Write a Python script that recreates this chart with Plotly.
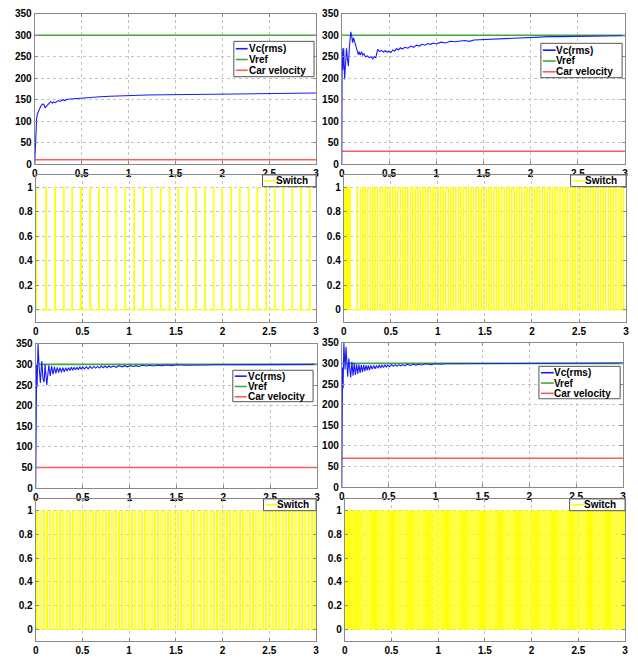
import plotly.graph_objects as go

# ---------------- data ----------------
T_MAX = 3.0
x_ticks = [0, 0.5, 1, 1.5, 2, 2.5, 3]
x_tick_labels = ["0", "0.5", "1", "1.5", "2", "2.5", "3"]
v_ticks = [0, 50, 100, 150, 200, 250, 300, 350]
v_tick_labels = ["0", "50", "100", "150", "200", "250", "300", "350"]
sw_ticks = [0, 0.2, 0.4, 0.6, 0.8, 1]
sw_tick_labels = ["0", "0.2", "0.4", "0.6", "0.8", "1"]

v_ref = 300
car_velocity = [10, 30, 50, 70]
series_names = ["Vc(rms)", "Vref", "Car velocity"]
switch_name = "Switch"

# Vc(rms), car velocity 10
vc1_t = [0, 0.005, 0.01, 0.02, 0.03, 0.05, 0.07, 0.09, 0.1, 0.11, 0.13, 0.15, 0.17, 0.19, 0.2, 0.22,
         0.25, 0.27, 0.3, 0.32, 0.35, 0.4, 0.45, 0.5, 0.55, 0.6, 0.7, 0.8, 0.9, 1.0, 1.2, 1.4, 1.6,
         1.8, 2.0, 2.2, 2.4, 2.6, 2.8, 3.0]
vc1_v = [0, 40, 80, 105, 118, 130, 137, 140, 138, 131, 137, 141, 146, 142, 145, 143,
         148, 146, 150, 148, 151, 152, 153, 154, 155, 155.5, 157, 158, 159, 160, 161, 161.5, 162,
         163, 163.5, 164, 164, 164.5, 165, 165.5]

# Vc(rms), car velocity 30
vc2_t = [0, 0.004, 0.012, 0.02, 0.03, 0.04, 0.05, 0.06, 0.07, 0.08, 0.095, 0.105, 0.115, 0.125,
         0.135, 0.145, 0.16, 0.175, 0.185, 0.195, 0.21, 0.22, 0.235, 0.25, 0.27, 0.29, 0.31, 0.33,
         0.345, 0.36, 0.38, 0.4, 0.42, 0.44, 0.46, 0.48, 0.5, 0.52, 0.54, 0.56, 0.58, 0.6, 0.62,
         0.64, 0.67, 0.7, 0.73, 0.76, 0.79, 0.82, 0.85, 0.88, 0.91, 0.94, 0.97, 1.0, 1.05, 1.1,
         1.15, 1.2, 1.3, 1.35, 1.4, 1.5, 1.6, 1.7, 1.8, 1.9, 2.0, 2.1, 2.2, 2.3, 2.4, 2.5, 2.6,
         2.7, 2.8, 2.9, 3.0]
vc2_v = [0, 270, 220, 270, 197, 250, 270, 245, 228, 270, 308, 298, 283, 294,
         285, 275, 265, 255, 262, 254, 262, 253, 257, 250, 252, 248, 250, 245,
         250, 248, 267, 262, 265, 261, 264, 261, 263, 260, 266, 263, 269, 266, 271,
         268, 272, 270, 275, 272, 277, 275, 279, 277, 281, 279, 282, 280, 284, 282,
         286, 285, 288, 286, 289, 290, 291, 292, 293, 294, 296, 296, 297, 297, 297.5, 298, 298,
         298.5, 298.5, 299, 299]

# Vc(rms), car velocity 50
vc3_t = [0, 0.005, 0.01, 0.015, 0.025, 0.035, 0.05, 0.065, 0.078, 0.09, 0.1, 0.118, 0.14, 0.155,
         0.17, 0.185, 0.2, 0.215, 0.23, 0.245, 0.26, 0.275, 0.29, 0.305, 0.32, 0.335, 0.35, 0.365,
         0.38, 0.395, 0.41, 0.425, 0.44, 0.455, 0.47, 0.485, 0.5, 0.52, 0.54, 0.56, 0.58, 0.6,
         0.62, 0.64, 0.66, 0.68, 0.7, 0.72, 0.74, 0.76, 0.78, 0.8, 0.83, 0.86, 0.89, 0.92, 0.95,
         0.98, 1.01, 1.04, 1.07, 1.1, 1.14, 1.18, 1.22, 1.26, 1.3, 1.35, 1.4, 1.45, 1.5, 1.6, 1.7,
         1.8, 1.9, 2.0, 2.2, 2.4, 2.6, 2.8, 3.0]
vc3_v = [0, 180, 300, 245, 350, 300, 255, 308, 265, 257, 300, 250, 298, 272,
         296, 276, 294, 278, 293, 280, 292, 281, 292, 282, 292, 284, 292, 285,
         293, 286, 293, 287, 293, 287, 294, 288, 294, 289, 294, 289, 295, 290,
         295, 291, 295, 291, 296, 292, 296, 292, 296, 293, 296, 293, 297, 294, 297,
         294, 297, 295, 297, 295, 298, 296, 298, 296, 298, 297, 298.5, 297, 299, 298, 299,
         298.5, 299, 299, 299.5, 299.5, 299.5, 300, 300]

# Vc(rms), car velocity 70
vc4_t = [0, 0.003, 0.008, 0.014, 0.022, 0.028, 0.035, 0.045, 0.055, 0.063, 0.075, 0.085, 0.095,
         0.108, 0.12, 0.133, 0.145, 0.158, 0.17, 0.183, 0.195, 0.208, 0.22, 0.233, 0.245, 0.258,
         0.27, 0.283, 0.295, 0.31, 0.325, 0.34, 0.355, 0.37, 0.385, 0.4, 0.415, 0.43, 0.445, 0.46,
         0.475, 0.49, 0.51, 0.53, 0.55, 0.57, 0.59, 0.61, 0.63, 0.65, 0.67, 0.7, 0.73, 0.76, 0.79,
         0.82, 0.85, 0.9, 0.95, 1.0, 1.05, 1.1, 1.2, 1.3, 1.5, 1.7, 2.0, 2.5, 3.0]
vc4_v = [0, 120, 290, 240, 350, 300, 285, 340, 295, 268, 312, 285, 266,
         304, 270, 300, 272, 298, 275, 297, 277, 296, 279, 296, 281, 295,
         283, 295, 284, 295, 286, 295, 287, 295, 288, 296, 289, 296, 290, 296,
         291, 296, 292, 297, 293, 297, 293, 297, 294, 297, 294, 298, 295, 298, 296,
         298, 296, 299, 297, 299, 298, 299, 299, 299.5, 299.5, 300, 300, 300.5, 301]

# Switch signals: pulse start times (s) and pulse widths (s)
sw1_on = [0.004, 0.108, 0.203, 0.297, 0.386, 0.481, 0.577, 0.672, 0.764, 0.860, 0.955, 1.050,
          1.146, 1.238, 1.334, 1.429, 1.521, 1.617, 1.712, 1.808, 1.900, 1.992, 2.088, 2.180,
          2.275, 2.367, 2.462, 2.554, 2.646, 2.742, 2.834, 2.929]
sw1_width = 0.008

sw2_on = [0.005, 0.020, 0.035, 0.050, 0.065, 0.140, 0.175, 0.200, 0.225, 0.252, 0.280, 0.305,
          0.330, 0.358, 0.385, 0.410, 0.437, 0.465, 0.490, 0.518, 0.545, 0.570, 0.598, 0.625,
          0.650, 0.678, 0.705, 0.730, 0.758, 0.785, 0.810, 0.838, 0.866, 0.892, 0.920, 0.946,
          0.973, 1.000, 1.027, 1.054, 1.080, 1.108, 1.135, 1.161, 1.189, 1.216, 1.242, 1.270,
          1.297, 1.323, 1.351, 1.378, 1.404, 1.432, 1.459, 1.485, 1.513, 1.540, 1.566, 1.594,
          1.621, 1.647, 1.675, 1.702, 1.728, 1.756, 1.783, 1.809, 1.837, 1.864, 1.890, 1.918,
          1.945, 1.971, 1.999, 2.026, 2.052, 2.080, 2.107, 2.133, 2.161, 2.188, 2.214, 2.242,
          2.269, 2.295, 2.323, 2.350, 2.376, 2.404, 2.431, 2.457, 2.485, 2.512, 2.538, 2.566,
          2.593, 2.619, 2.647, 2.674, 2.700, 2.728, 2.755, 2.781, 2.809, 2.836, 2.862, 2.890,
          2.917, 2.943, 2.971]
sw2_width = 0.005

sw3_on = [0.010, 0.045, 0.080, 0.115, 0.150, 0.185, 0.220, 0.255, 0.290, 0.325, 0.360, 0.395,
          0.430, 0.465, 0.500, 0.535, 0.570, 0.605, 0.640, 0.675, 0.710, 0.745, 0.780, 0.815,
          0.850, 0.885, 0.920, 0.955, 0.990, 1.025, 1.060, 1.095, 1.130, 1.165, 1.200, 1.235,
          1.270, 1.305, 1.340, 1.375, 1.410, 1.445, 1.480, 1.515, 1.550, 1.585, 1.620, 1.655,
          1.690, 1.725, 1.760, 1.795, 1.830, 1.865, 1.900, 1.935, 1.970, 2.005, 2.040, 2.075,
          2.110, 2.145, 2.180, 2.215, 2.250, 2.285, 2.320, 2.355, 2.390, 2.425, 2.460, 2.495,
          2.530, 2.565, 2.600, 2.635, 2.670, 2.705, 2.740, 2.775, 2.810, 2.845, 2.880, 2.915,
          2.950, 2.985]
sw3_width = 0.012

sw4_on = [0.004, 0.018, 0.032, 0.050, 0.070, 0.092, 0.114, 0.137, 0.160, 0.182, 0.205, 0.228,
          0.250, 0.273, 0.296, 0.318, 0.341, 0.364, 0.386, 0.409, 0.432, 0.454, 0.477, 0.500,
          0.522, 0.545, 0.568, 0.590, 0.613, 0.636, 0.658, 0.681, 0.704, 0.726, 0.749, 0.772,
          0.794, 0.817, 0.840, 0.862, 0.885, 0.908, 0.930, 0.953, 0.976, 0.998, 1.021, 1.044,
          1.066, 1.089, 1.112, 1.134, 1.157, 1.180, 1.202, 1.225, 1.248, 1.270, 1.293, 1.316,
          1.338, 1.361, 1.384, 1.406, 1.429, 1.452, 1.474, 1.497, 1.520, 1.542, 1.565, 1.588,
          1.610, 1.633, 1.656, 1.678, 1.701, 1.724, 1.746, 1.769, 1.792, 1.814, 1.837, 1.860,
          1.882, 1.905, 1.928, 1.950, 1.973, 1.996, 2.018, 2.041, 2.064, 2.086, 2.109, 2.132,
          2.154, 2.177, 2.200, 2.222, 2.245, 2.268, 2.290, 2.313, 2.336, 2.358, 2.381, 2.404,
          2.426, 2.449, 2.472, 2.494, 2.517, 2.540, 2.562, 2.585, 2.608, 2.630, 2.653, 2.676,
          2.698, 2.721, 2.744, 2.766, 2.789, 2.812, 2.834, 2.857, 2.880, 2.902, 2.925, 2.948,
          2.970, 2.993]
sw4_width = 0.011

# ---------------- styling ----------------
W, H = 638, 662
FONT = "Liberation Sans, Arial, sans-serif"
C_VC = "#1a1aff"
C_REF = "#3fa83f"
C_CAR = "#ff5a5a"
C_SW = "#ffff00"
GRID = "#c4c4c4"
FRAME = "#8a8a8a"

# pixel boxes of the 8 plot areas: (x0, x1, y0_top, y1_bottom)
boxes = [
    (32, 316, 8, 161), (342, 628, 8, 161),
    (33, 316, 172, 322), (344, 629, 172, 322),
    (33, 317, 344, 491), (342, 626, 343, 490),
    (33, 316, 502, 647), (345, 628, 502, 647),
]


def px(x):
    return x / W


def py(y):
    return 1 - y / H


def pulse_xy(starts, width):
    xs, ys = [0.0], [0.0]
    for s in starts:
        xs += [s, s, s + width, s + width]
        ys += [0, 1, 1, 0]
    xs.append(T_MAX)
    ys.append(0)
    return xs, ys


fig = go.Figure()

voltage_panels = [(1, vc1_t, vc1_v, car_velocity[0]), (2, vc2_t, vc2_v, car_velocity[1]),
                  (5, vc3_t, vc3_v, car_velocity[2]), (6, vc4_t, vc4_v, car_velocity[3])]
switch_panels = [(3, sw1_on, sw1_width), (4, sw2_on, sw2_width),
                 (7, sw3_on, sw3_width), (8, sw4_on, sw4_width)]


def axref(k):
    return ("x" if k == 1 else f"x{k}"), ("y" if k == 1 else f"y{k}")


for k, t, v, car in voltage_panels:
    xa, ya = axref(k)
    fig.add_trace(go.Scatter(x=[0, T_MAX], y=[v_ref, v_ref], mode="lines",
                             line=dict(color=C_REF, width=1.6), xaxis=xa, yaxis=ya,
                             showlegend=False, name=series_names[1]))
    fig.add_trace(go.Scatter(x=[0, T_MAX], y=[car, car], mode="lines",
                             line=dict(color=C_CAR, width=1.6), xaxis=xa, yaxis=ya,
                             showlegend=False, name=series_names[2]))
    fig.add_trace(go.Scatter(x=t, y=v, mode="lines", line=dict(color=C_VC, width=1.1),
                             xaxis=xa, yaxis=ya, showlegend=False, name=series_names[0]))

for k, on, w in switch_panels:
    xa, ya = axref(k)
    xs, ys = pulse_xy(on, w)
    fig.add_trace(go.Scatter(x=xs, y=ys, mode="lines", line=dict(color=C_SW, width=1),
                             xaxis=xa, yaxis=ya, showlegend=False, name=switch_name))

tickfont = dict(family=FONT, size=10, color="black", weight="bold")
layout = dict(width=W, height=H, margin=dict(l=0, r=0, t=0, b=0),
              paper_bgcolor="white", plot_bgcolor="white", showlegend=False)

for k in range(1, 9):
    x0, x1, y0, y1 = boxes[k - 1]
    is_v = k in (1, 2, 5, 6)
    xs = "xaxis" if k == 1 else f"xaxis{k}"
    ys = "yaxis" if k == 1 else f"yaxis{k}"
    xa, ya = axref(k)
    layout[xs] = dict(domain=[px(x0), px(x1)], anchor=ya, range=[0, T_MAX],
                      tickvals=x_ticks, ticktext=x_tick_labels, tickfont=tickfont,
                      showgrid=True, gridcolor=GRID, griddash="dot", gridwidth=1,
                      zeroline=False, showline=True, mirror="ticks", linecolor=FRAME,
                      linewidth=1, ticks="inside", ticklen=3, tickcolor=FRAME)
    layout[ys] = dict(domain=[py(y1), py(y0)], anchor=xa,
                      range=[0, 350] if is_v else [-0.1, 1.1],
                      tickvals=v_ticks if is_v else sw_ticks,
                      ticktext=v_tick_labels if is_v else sw_tick_labels,
                      tickfont=tickfont,
                      showgrid=True, gridcolor=GRID, griddash="dot", gridwidth=1,
                      zeroline=False, showline=True, mirror="ticks", linecolor=FRAME,
                      linewidth=1, ticks="inside", ticklen=3, tickcolor=FRAME)

fig.update_layout(**layout)

# ---------------- legends (drawn as boxes) ----------------
shapes, annotations = [], []
LEG_FONT = 9


def legend(box, rows, colors, names, lx0, lx1, tx):
    bx0, by0, bx1, by1 = box
    shapes.append(dict(type="rect", xref="paper", yref="paper",
                       x0=px(bx0), x1=px(bx1), y0=py(by1), y1=py(by0),
                       line=dict(color="#555555", width=1), fillcolor="white", layer="above"))
    for ry, c, n in zip(rows, colors, names):
        shapes.append(dict(type="line", xref="paper", yref="paper",
                           x0=px(lx0), x1=px(lx1), y0=py(ry), y1=py(ry),
                           line=dict(color=c, width=1.6), layer="above"))
        annotations.append(dict(xref="paper", yref="paper", x=px(tx), y=py(ry),
                                xanchor="left", yanchor="middle", showarrow=False,
                                text=f"<b>{n}</b>", borderpad=0,
                                font=dict(family=FONT, size=LEG_FONT + 1, color="black")))


three_colors = [C_VC, C_REF, C_CAR]
legend((233, 36, 314, 72), [43.5, 54.5, 65.5], three_colors, series_names, 235, 247, 247)
legend((543, 38, 625, 73), [45, 56, 67], three_colors, series_names, 545, 558, 557)
legend((232, 371, 313, 403), [377, 387.5, 398], three_colors, series_names, 234, 246, 246)
legend((541, 367, 623, 400), [373.5, 384, 394.5], three_colors, series_names, 543, 556, 555)
legend((262, 172, 316, 184), [178], [C_SW], [switch_name], 264, 276, 275)
legend((573, 172, 629, 184), [178], [C_SW], [switch_name], 575, 588, 587)
legend((263, 502, 316, 514), [508], [C_SW], [switch_name], 265, 277, 276)
legend((572, 502, 628, 514), [508], [C_SW], [switch_name], 574, 587, 586)

fig.update_layout(shapes=shapes, annotations=annotations)

fig.write_html("out.html", config={"displayModeBar": False},
               post_script="document.body.style.margin='0';")
